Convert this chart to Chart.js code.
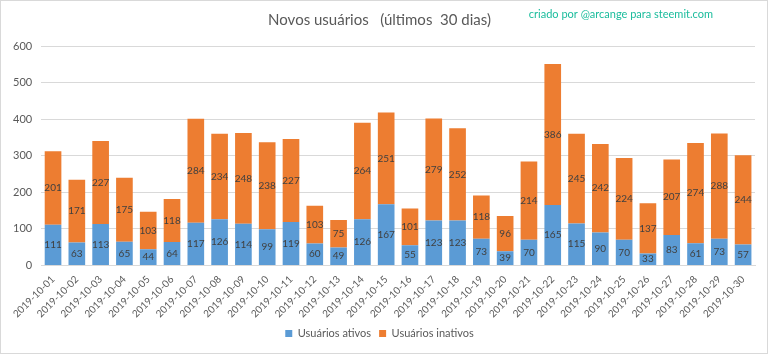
<!DOCTYPE html>
<html lang="pt">
<head>
    <meta charset="UTF-8">
    <title>Novos usuários</title>
    <script src="https://cdn.jsdelivr.net/npm/chart.js"></script>
    <style>
        html, body { margin: 0; padding: 0; background: #fff; }
        .wrap {
            width: 766px;
            height: 352px;
            border: 1px solid #d9d9d9;
            position: relative;
        }
    </style>
</head>
<body>
    <div class="wrap"><canvas id="chart"></canvas></div>
    <script>
        const dias = [
            '2019-10-01', '2019-10-02', '2019-10-03', '2019-10-04', '2019-10-05',
            '2019-10-06', '2019-10-07', '2019-10-08', '2019-10-09', '2019-10-10',
            '2019-10-11', '2019-10-12', '2019-10-13', '2019-10-14', '2019-10-15',
            '2019-10-16', '2019-10-17', '2019-10-18', '2019-10-19', '2019-10-20',
            '2019-10-21', '2019-10-22', '2019-10-23', '2019-10-24', '2019-10-25',
            '2019-10-26', '2019-10-27', '2019-10-28', '2019-10-29', '2019-10-30'
        ];
        const ativos = [111, 63, 113, 65, 44, 64, 117, 126, 114, 99, 119, 60, 49, 126, 167,
                        55, 123, 123, 73, 39, 70, 165, 115, 90, 70, 33, 83, 61, 73, 57];
        const inativos = [201, 171, 227, 175, 103, 118, 284, 234, 248, 238, 227, 103, 75, 264, 251,
                          101, 279, 252, 118, 96, 214, 386, 245, 242, 224, 137, 207, 274, 288, 244];

        const fonte = 'Lato, "Liberation Sans", sans-serif';

        // numbers in the middle of each segment
        const rotulos = {
            id: 'rotulos',
            afterDatasetsDraw(chart) {
                const ctx = chart.ctx;
                ctx.save();
                ctx.font = '10px ' + fonte;
                ctx.fillStyle = '#404040';
                ctx.textAlign = 'center';
                ctx.textBaseline = 'middle';
                chart.data.datasets.forEach((ds, i) => {
                    chart.getDatasetMeta(i).data.forEach((bar, j) => {
                        const y = (bar.y + bar.base) / 2;
                        ctx.fillText(ds.data[j], bar.x, y);
                    });
                });
                ctx.restore();
            }
        };

        const assinatura = {
            id: 'assinatura',
            afterDraw(chart) {
                const ctx = chart.ctx;
                ctx.save();
                ctx.font = '11px ' + fonte;
                ctx.fillStyle = '#1abc9c';
                ctx.textAlign = 'right';
                ctx.textBaseline = 'middle';
                ctx.fillText('criado por @arcange para steemit.com', 712, 13);
                ctx.restore();
            }
        };

        new Chart(document.getElementById('chart'), {
            type: 'bar',
            data: {
                labels: dias,
                datasets: [
                    {
                        label: 'Usuários ativos',
                        data: ativos,
                        backgroundColor: '#5b9bd5',
                        categoryPercentage: 0.7,
                        barPercentage: 1
                    },
                    {
                        label: 'Usuários inativos',
                        data: inativos,
                        backgroundColor: '#ed7d31',
                        categoryPercentage: 0.7,
                        barPercentage: 1
                    }
                ]
            },
            options: {
                responsive: true,
                maintainAspectRatio: false,
                animation: false,
                layout: { padding: { left: 3, right: 12, top: 0, bottom: 4 } },
                plugins: {
                    title: {
                        display: true,
                        text: 'Novos usuários   (últimos  30 dias)',
                        color: '#595959',
                        font: { family: fonte, size: 15, weight: 'normal' },
                        padding: { top: 10, bottom: 17 }
                    },
                    legend: {
                        position: 'bottom',
                        labels: {
                            color: '#595959',
                            font: { family: fonte, size: 11 },
                            boxWidth: 7,
                            boxHeight: 7,
                            padding: 8
                        }
                    },
                    tooltip: { enabled: false }
                },
                scales: {
                    x: {
                        stacked: true,
                        grid: { display: false },
                        border: { color: '#d9d9d9' },
                        ticks: {
                            color: '#595959',
                            font: { family: fonte, size: 10 },
                            maxRotation: 45,
                            minRotation: 45,
                            autoSkip: false,
                            padding: 0
                        }
                    },
                    y: {
                        stacked: true,
                        min: 0,
                        max: 600,
                        ticks: {
                            stepSize: 100,
                            color: '#595959',
                            font: { family: fonte, size: 11 },
                            padding: 9
                        },
                        grid: { color: '#d9d9d9', drawTicks: false },
                        border: { display: false }
                    }
                }
            },
            plugins: [rotulos, assinatura]
        });
    </script>
</body>
</html>
